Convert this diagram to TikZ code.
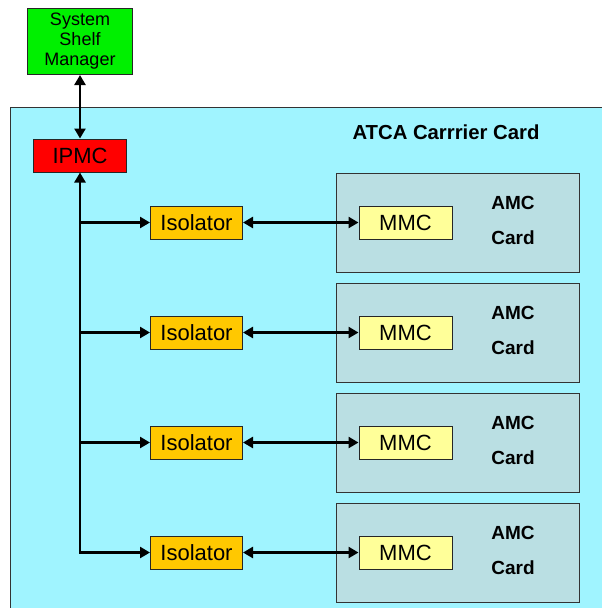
\documentclass[tikz,border=0pt]{standalone}
\usepackage{fontspec}
\setmainfont{Liberation Sans}
\usepackage{xcolor}
\usepackage{tikz}
\usetikzlibrary{arrows.meta,positioning}
\definecolor{shelfgreen}{RGB}{0,240,0}
\definecolor{ipmcred}{RGB}{255,0,0}
\definecolor{carriercyan}{RGB}{160,244,255}
\definecolor{amcgrey}{RGB}{186,223,227}
\definecolor{isogold}{RGB}{255,200,0}
\definecolor{mmcyellow}{RGB}{255,255,153}

\begin{document}
\begin{tikzpicture}[
  x=1pt, y=-1pt,
  block/.style={draw=black!85,line width=1pt,inner sep=0pt,
                minimum height=33pt,font=\fontsize{22}{24}\selectfont},
  shelf/.style={block,fill=shelfgreen,minimum width=105pt,minimum height=66pt,
                align=center,font=\fontsize{18}{20}\selectfont},
  ipmcbox/.style={block,fill=ipmcred,minimum width=93pt},
  isolator/.style={block,fill=isogold,minimum width=92pt},
  mmcbox/.style={block,fill=mmcyellow,minimum width=93pt},
  amccard/.style={draw=black!80,line width=1pt,fill=amcgrey,
                  minimum width=243pt,minimum height=99pt},
  amclabel/.style={align=center,inner sep=0pt,
                   font=\bfseries\fontsize{19}{35}\selectfont},
  carrier/.style={draw=black!80,line width=1pt,fill=carriercyan,anchor=north west,
                  minimum width=610pt,minimum height=520pt},
  flow/.style={-{Triangle[length=10pt,width=11pt]},line width=2.6pt},
  biflow/.style={{Triangle[length=10pt,width=11pt]}-{Triangle[length=10pt,width=11pt]},
                 line width=2.6pt}
]
\useasboundingbox (0,0) rectangle (602,608);

\node[carrier] (carrier) at (10,107) {};
\node[font=\bfseries\fontsize{20.3}{22}\selectfont] (title) at (446,132) {ATCA Carrrier Card};

\node[shelf] (ssm) at (80,41.5) {System\\Shelf\\Manager};
\node[ipmcbox] (ipmc) at (80,155.5) {IPMC};

% AMC cards
\node[amccard] (amc1) at (457.5,222.5) {};
\node[amccard] (amc2) at (457.5,332.5) {};
\node[amccard] (amc3) at (457.5,442.5) {};
\node[amccard] (amc4) at (457.5,552.5) {};
\node[amclabel] (lab1) at (513,220.5) {AMC\\Card};
\node[amclabel] (lab2) at (513,330.5) {AMC\\Card};
\node[amclabel] (lab3) at (513,440.5) {AMC\\Card};
\node[amclabel] (lab4) at (513,550.5) {AMC\\Card};

\node[mmcbox] (mmc1) at (405.5,222.5) {MMC};
\node[mmcbox] (mmc2) at (405.5,332.5) {MMC};
\node[mmcbox] (mmc3) at (405.5,442.5) {MMC};
\node[mmcbox] (mmc4) at (405.5,552.5) {MMC};

\node[isolator] (iso1) at (196.5,222.5) {Isolator};
\node[isolator] (iso2) at (196.5,332.5) {Isolator};
\node[isolator] (iso3) at (196.5,442.5) {Isolator};
\node[isolator] (iso4) at (196.5,552.5) {Isolator};

\coordinate (tap1) at (ipmc |- iso1);
\coordinate (tap2) at (ipmc |- iso2);
\coordinate (tap3) at (ipmc |- iso3);

\draw[biflow] (ssm) -- (ipmc);
\draw[biflow] (ipmc) |- (iso4);
\draw[flow] (tap1) -- (iso1);
\draw[flow] (tap2) -- (iso2);
\draw[flow] (tap3) -- (iso3);
\draw[biflow] (iso1) -- (mmc1);
\draw[biflow] (iso2) -- (mmc2);
\draw[biflow] (iso3) -- (mmc3);
\draw[biflow] (iso4) -- (mmc4);
\end{tikzpicture}
\end{document}
